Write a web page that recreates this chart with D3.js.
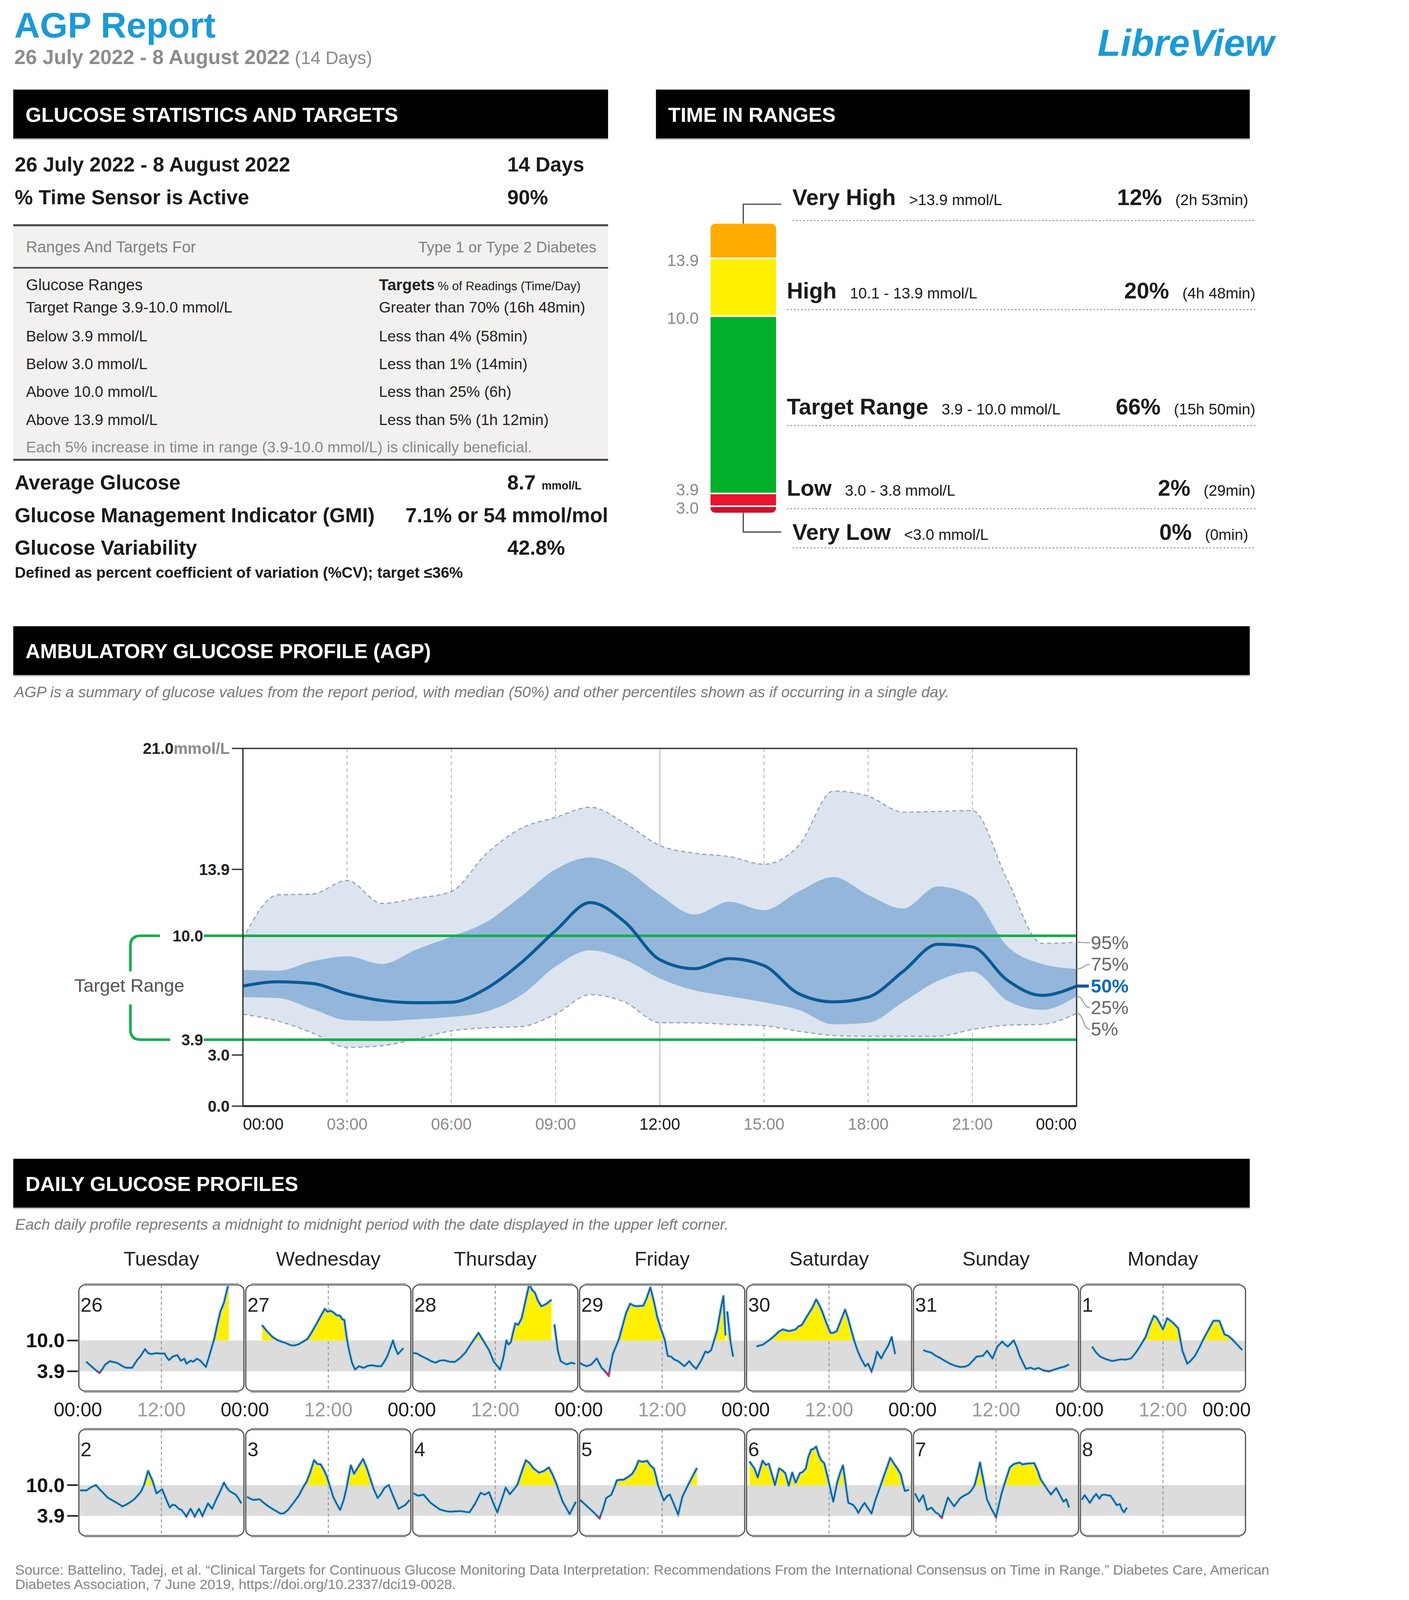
<!DOCTYPE html>
<html><head><meta charset="utf-8">
<script src="https://cdn.jsdelivr.net/npm/d3@7"></script>
<style>html,body{margin:0;padding:0;background:#fff;width:100%;height:100%;overflow:hidden;} svg{display:block;width:100vw;height:100vh;}</style>
</head><body>
<svg id="c"></svg>
<script>
// ===================== DATA =====================
const reportTitle = "AGP Report";
const reportPeriod = "26 July 2022 - 8 August 2022";
const reportDays = "(14 Days)";
const brand = "LibreView";
const sectionTitles = ["GLUCOSE STATISTICS AND TARGETS", "TIME IN RANGES", "AMBULATORY GLUCOSE PROFILE (AGP)", "DAILY GLUCOSE PROFILES"];

const statsTopLabels = ["26 July 2022 - 8 August 2022", "% Time Sensor is Active"];
const statsTopValues = ["14 Days", "90%"];
const rangesHeaderLeft = "Ranges And Targets For";
const rangesHeaderRight = "Type 1 or Type 2 Diabetes";
const rangeNames = ["Target Range 3.9-10.0 mmol/L", "Below 3.9 mmol/L", "Below 3.0 mmol/L", "Above 10.0 mmol/L", "Above 13.9 mmol/L"];
const rangeTargets = ["Greater than 70% (16h 48min)", "Less than 4% (58min)", "Less than 1% (14min)", "Less than 25% (6h)", "Less than 5% (1h 12min)"];
const rangesNote = "Each 5% increase in time in range (3.9-10.0 mmol/L) is clinically beneficial.";
const metricLabels = ["Average Glucose", "Glucose Management Indicator (GMI)", "Glucose Variability"];
const metricValues = ["8.7", "7.1% or 54 mmol/mol", "42.8%"];
const metricUnits = ["mmol/L", "", ""];
const cvNote = "Defined as percent coefficient of variation (%CV); target \u226436%";

const tirLabels = ["Very High", "High", "Target Range", "Low", "Very Low"];
const tirRanges = [">13.9 mmol/L", "10.1 - 13.9 mmol/L", "3.9 - 10.0 mmol/L", "3.0 - 3.8 mmol/L", "<3.0 mmol/L"];
const tirPercents = [12, 20, 66, 2, 0];
const tirTimes = ["(2h 53min)", "(4h 48min)", "(15h 50min)", "(29min)", "(0min)"];
const tirThresholds = ["13.9", "10.0", "3.9", "3.0"];

const agpSubtitle = "AGP is a summary of glucose values from the report period, with median (50%) and other percentiles shown as if occurring in a single day.";
const agpHours = [0,1,2,3,4,5,6,7,8,9,10,11,12,13,14,15,16,17,18,19,20,21,22,23,24];
const p95 = [9.8,12.4,12.45,13.25,11.9,12.2,12.6,14.8,16.3,16.95,17.55,16.6,15.3,14.85,14.65,14.2,15.3,18.5,18.2,17.26,17.3,17.35,13.3,9.55,9.62];
const p75 = [8.0,7.95,8.5,8.8,8.35,9.2,9.95,10.8,12.3,13.9,14.6,13.9,12.4,11.25,12.0,11.5,12.6,13.45,12.4,11.6,12.9,12.3,9.4,8.35,8.05];
const p50 = [7.05,7.3,7.2,6.6,6.2,6.07,6.1,6.9,8.4,10.3,11.95,10.8,8.6,8.07,8.66,8.25,6.6,6.12,6.4,7.9,9.5,9.35,7.4,6.5,7.05];
const p25 = [6.4,6.35,5.7,5.05,5.0,5.1,5.24,5.55,6.5,8.2,9.15,8.6,7.5,6.8,6.45,6.1,5.65,4.8,4.9,6.1,7.35,7.9,6.2,5.65,6.45];
const p5  = [5.4,5.0,4.3,3.45,3.55,3.95,4.42,4.6,4.67,5.4,6.55,6.1,4.9,4.89,4.8,4.72,4.4,4.15,4.1,4.1,4.1,4.5,4.75,4.8,5.45];
const percentileLabels = ["95%", "75%", "50%", "25%", "5%"];
const agpXTickHours = [0,3,6,9,12,15,18,21,24];
const agpXTickLabels = ["00:00","03:00","06:00","09:00","12:00","15:00","18:00","21:00","00:00"];
const agpYTicks = [21.0, 13.9, 3.0, 0.0];
const targetLow = 3.9, targetHigh = 10.0;

const dailySubtitle = "Each daily profile represents a midnight to midnight period with the date displayed in the upper left corner.";
const dayNames = ["Tuesday","Wednesday","Thursday","Friday","Saturday","Sunday","Monday"];
const dailyDates = ["26","27","28","29","30","31","1","2","3","4","5","6","7","8"];
const d26 = [[1.2,5.8],[2.0,4.8],[2.6,4.1],[3.1,3.6],[3.5,4.3],[3.9,5.2],[4.6,5.9],[5.2,5.7],[5.6,5.6],[6.3,5.0],[6.9,4.6],[7.8,4.6],[8.5,6.1],[9.0,6.9],[9.65,8.3],[10.1,7.5],[10.6,7.3],[11.2,7.5],[12.0,7.4],[12.45,7.45],[12.8,6.6],[13.1,6.1],[13.6,6.8],[14.3,7.1],[14.8,6.0],[15.3,6.4],[15.6,5.4],[16.2,6.0],[16.6,5.8],[17.1,6.4],[17.6,6.0],[18.4,4.75],[19.0,7.5],[19.6,10.3],[20.1,13.5],[20.5,15.8],[21.0,17.5],[21.7,21.5]];
const d27 = [[2.46,13.05],[3.2,11.8],[4.0,10.67],[4.8,10.0],[5.4,9.7],[5.9,9.5],[6.5,9.1],[7.1,9.0],[7.8,9.3],[8.4,9.8],[9.0,10.3],[9.6,11.6],[10.2,13.05],[10.9,14.8],[11.5,16.27],[11.9,15.7],[12.3,15.9],[12.7,15.6],[13.2,15.0],[13.7,14.9],[14.0,14.2],[14.3,14.07],[14.6,11.0],[14.9,8.6],[15.4,5.6],[15.85,4.24],[16.4,4.9],[17.1,4.57],[17.7,5.0],[18.35,5.1],[19.0,4.9],[19.6,4.9],[20.1,5.9],[20.5,6.95],[21.3,10.0],[21.6,8.6],[22.0,7.3],[22.4,7.9],[22.8,8.47]];
const d28 = [[0.2,7.5],[0.7,7.45],[1.4,6.9],[2.1,6.44],[2.8,5.9],[3.4,5.6],[4.0,6.0],[4.6,6.1],[5.4,5.8],[6.2,5.76],[7.0,6.6],[7.7,7.6],[8.6,9.5],[9.6,11.5],[10.4,9.7],[11.1,8.1],[11.8,5.8],[12.7,4.24],[13.2,6.8],[13.6,10.0],[13.9,9.2],[14.25,9.66],[14.6,11.8],[14.9,13.4],[15.3,13.1],[15.8,14.4],[16.3,17.5],[16.9,21.2],[17.3,20.0],[17.7,19.5],[18.1,18.0],[18.6,16.8],[19.0,17.0],[19.4,17.3],[20.1,18.1],[20.15,null],[20.5,13.2],[21.0,8.0],[21.4,5.9],[21.9,5.5],[22.3,5.25],[22.9,5.6],[23.5,5.4]];
const d29 = [[0.1,5.6],[0.6,5.2],[1.15,4.9],[1.8,5.25],[2.6,6.44],[3.3,4.57],[3.8,3.9],[4.3,3.05],[4.9,7.3],[5.8,10.3],[6.8,15.4],[7.4,17.3],[7.9,16.9],[8.3,16.8],[9.3,16.9],[9.8,18.5],[10.3,20.5],[10.8,17.8],[11.3,14.6],[11.8,12.4],[12.4,10.0],[12.8,6.95],[13.3,6.8],[13.7,6.27],[14.3,5.9],[15.2,4.9],[15.9,5.9],[16.4,5.0],[16.9,4.4],[17.6,6.0],[18.2,7.8],[18.6,7.6],[19.05,8.1],[19.9,12.0],[20.4,16.0],[20.8,18.8],[21.0,13.5],[21.1,11.0],[21.2,null],[21.35,15.8],[21.8,10.0],[22.2,6.8]];
const d30 = [[1.56,8.8],[2.0,9.0],[2.45,9.15],[3.33,10.0],[4.22,11.0],[4.8,11.8],[5.4,12.2],[5.8,12.0],[6.3,11.86],[7.2,12.2],[7.6,12.8],[8.07,13.05],[8.96,15.1],[9.6,16.5],[10.14,18.13],[10.6,17.0],[11.0,15.76],[11.6,13.5],[12.2,11.5],[12.6,11.5],[13.1,11.86],[13.7,14.0],[14.3,16.1],[14.7,14.5],[15.2,12.0],[15.6,10.0],[16.1,7.97],[16.6,6.4],[17.2,4.9],[17.6,5.4],[18.1,3.9],[18.5,5.5],[18.9,7.8],[19.5,6.44],[19.9,7.6],[20.5,9.0],[21.0,10.67],[21.5,7.3]];
const d31 = [[1.53,8.1],[2.1,7.8],[2.7,7.6],[3.3,7.0],[3.9,6.6],[4.6,6.0],[5.4,5.4],[6.1,5.0],[6.86,4.75],[7.5,4.8],[8.04,5.1],[8.6,5.9],[9.2,6.8],[10.1,6.95],[10.7,7.97],[11.5,6.44],[12.2,8.81],[12.9,9.8],[13.3,9.2],[13.7,8.81],[14.55,10.0],[15.0,8.6],[15.4,6.95],[16.3,4.4],[17.0,4.6],[17.5,4.3],[18.1,4.57],[18.8,4.1],[19.6,3.9],[20.3,4.2],[21.1,4.57],[21.8,4.8],[22.5,5.25]];
const d01 = [[1.8,8.8],[2.4,7.6],[3.0,6.8],[3.8,6.3],[4.76,5.93],[5.3,6.1],[5.94,6.27],[6.6,6.2],[7.4,6.44],[8.0,7.4],[8.6,8.64],[9.5,10.67],[10.1,13.0],[10.7,14.9],[11.1,14.5],[11.5,13.5],[12.0,12.2],[12.6,14.4],[13.3,13.7],[13.8,13.0],[14.2,12.4],[14.8,7.97],[15.5,5.4],[16.0,6.0],[16.6,6.95],[17.2,8.5],[17.8,10.2],[18.5,12.0],[19.25,13.9],[19.7,13.9],[20.1,13.9],[20.5,12.5],[20.85,11.2],[21.4,10.9],[21.9,10.3],[22.6,9.3],[23.4,8.1]];
const d02 = [[0.3,8.95],[1.25,8.95],[1.9,9.6],[2.6,10.0],[3.1,9.2],[3.7,8.36],[4.3,7.5],[5.0,6.95],[5.7,6.4],[6.4,5.78],[6.9,6.1],[7.5,6.6],[8.1,7.2],[8.7,8.1],[9.1,8.8],[9.5,10.0],[10.1,12.8],[10.7,10.94],[11.3,8.36],[12.1,9.18],[12.6,7.5],[13.2,5.55],[13.6,6.1],[14.0,6.0],[14.5,5.3],[14.9,5.08],[15.6,3.8],[16.2,5.31],[16.8,3.8],[17.4,5.31],[17.9,3.9],[18.7,6.37],[19.3,5.31],[19.9,7.2],[20.5,8.9],[21.0,10.47],[21.4,9.5],[21.8,8.83],[22.2,8.5],[22.7,8.1],[23.1,7.3],[23.5,6.37]];
const d03 = [[0.3,7.66],[0.8,7.3],[1.2,7.07],[2.15,7.19],[2.7,6.5],[3.4,5.78],[4.2,5.1],[5.1,4.37],[5.6,4.4],[6.2,5.08],[7.0,6.5],[7.75,7.9],[8.4,9.6],[8.9,10.7],[9.4,12.5],[9.95,14.93],[10.4,14.2],[10.9,14.1],[11.4,12.9],[11.8,11.65],[12.3,9.5],[12.7,7.66],[13.2,6.3],[13.7,5.08],[14.2,7.0],[14.6,9.3],[15.24,13.9],[15.7,12.23],[16.3,13.6],[17.0,15.17],[17.5,13.5],[18.0,11.4],[18.5,9.3],[19.1,7.43],[19.6,8.3],[20.1,9.5],[20.7,10.0],[21.3,7.9],[22.1,5.31],[22.6,5.7],[23.1,6.1],[23.7,7.07]];
const d04 = [[0.25,8.36],[0.9,7.9],[1.7,8.1],[2.2,7.3],[2.7,6.5],[3.3,5.9],[4.0,5.2],[4.7,4.9],[5.5,4.72],[6.3,4.8],[7.1,4.85],[7.7,4.7],[8.3,4.6],[9.1,6.3],[9.9,8.48],[10.5,8.1],[11.1,8.6],[11.7,6.5],[12.3,4.6],[12.9,7.0],[13.5,9.5],[14.1,8.2],[14.7,9.2],[15.2,10.1],[15.8,12.6],[16.4,14.93],[16.9,14.4],[17.5,13.3],[18.3,12.47],[19.0,12.8],[19.7,13.5],[20.2,12.2],[20.8,10.24],[21.2,8.6],[21.7,6.7],[22.2,5.5],[22.7,4.26],[23.1,5.4],[23.6,6.7]];
const d05 = [[0.2,7.07],[0.9,6.2],[1.6,5.31],[2.3,4.4],[3.0,3.44],[3.5,5.3],[3.95,7.43],[4.7,8.1],[5.1,9.5],[5.5,10.94],[6.0,11.06],[6.45,11.06],[7.1,11.6],[7.7,12.23],[8.2,13.4],[8.6,14.81],[9.2,14.6],[9.85,14.81],[10.3,13.9],[10.8,13.29],[11.1,11.8],[11.4,10.0],[11.8,8.5],[12.24,6.96],[12.7,7.8],[13.1,8.13],[13.7,6.2],[14.3,4.14],[14.9,7.66],[15.8,10.24],[16.4,11.8],[17.0,13.4]];
const d06 = [[0.55,14.7],[1.26,13.3],[1.73,11.53],[2.44,14.81],[2.9,14.0],[3.33,14.23],[4.22,10.0],[4.81,13.29],[5.3,12.9],[5.7,12.35],[6.2,9.89],[6.7,12.47],[7.2,10.47],[7.8,12.35],[8.2,12.6],[8.66,13.29],[9.0,15.5],[9.43,17.04],[9.8,17.2],[10.14,17.63],[10.5,16.0],[10.85,14.93],[11.3,14.34],[11.9,10.94],[12.3,8.5],[12.6,6.72],[13.2,10.7],[13.6,12.5],[14.0,13.87],[14.4,10.0],[14.76,6.48],[15.1,6.3],[15.5,6.02],[15.9,5.3],[16.2,4.49],[16.6,5.5],[17.1,6.48],[17.6,5.4],[18.1,4.37],[18.6,6.8],[19.3,9.5],[19.9,11.88],[20.4,13.8],[20.8,15.4],[21.3,14.3],[21.8,13.3],[22.3,12.12],[22.6,10.3],[22.9,8.83],[23.5,9.07]];
const d07 = [[0.35,8.36],[0.94,6.72],[1.53,8.0],[2.1,5.08],[2.7,5.55],[3.3,4.6],[3.7,4.3],[4.2,3.55],[5.08,7.54],[5.97,5.78],[6.86,7.43],[7.4,7.9],[8.04,8.36],[8.5,9.0],[8.93,10.0],[9.3,12.0],[9.7,14.46],[10.2,10.8],[10.7,7.19],[11.3,5.4],[12.0,3.67],[12.8,8.36],[13.4,11.0],[14.0,13.52],[14.6,14.2],[15.4,14.46],[15.8,14.1],[16.3,14.23],[16.9,14.3],[17.5,14.34],[18.0,12.8],[18.4,11.17],[19.3,9.3],[19.9,8.13],[20.65,9.42],[21.2,8.0],[21.7,6.72],[22.1,7.19],[22.5,5.55]];
const d08 = [[0.32,7.07],[0.73,8.0],[1.1,7.3],[1.5,6.48],[2.0,7.6],[2.4,8.25],[2.86,7.31],[3.2,8.0],[3.57,8.13],[4.0,8.0],[4.46,7.9],[4.9,7.0],[5.35,6.02],[5.8,6.25],[6.1,5.2],[6.4,4.6],[6.83,5.55]];
const dailyData = [d26,d27,d28,d29,d30,d31,d01,d02,d03,d04,d05,d06,d07,d08];

const footer1 = "Source: Battelino, Tadej, et al. \u201cClinical Targets for Continuous Glucose Monitoring Data Interpretation: Recommendations From the International Consensus on Time in Range.\u201d Diabetes Care, American";
const footer2 = "Diabetes Association, 7 June 2019, https://doi.org/10.2337/dci19-0028.";

// ===================== DRAWING =====================
const W = 1265, H = 1571.3;
const FONT = "'Liberation Sans', Arial, Helvetica, sans-serif";
const svg = d3.select("#c").attr("viewBox", `0 0 ${W} ${H}`)
  .attr("preserveAspectRatio", "xMinYMin meet").attr("font-family", FONT);
svg.append("rect").attr("width", W).attr("height", H).attr("fill", "#fff");
const defs = svg.append("defs");
const DARK = "#1a1a1a";

function txt(g, x, y, s, o = {}) {
  const t = g.append("text").attr("x", x).attr("y", y).text(s)
    .attr("font-size", o.size || 15).attr("fill", o.fill || DARK);
  if (o.weight) t.attr("font-weight", o.weight);
  if (o.anchor) t.attr("text-anchor", o.anchor);
  if (o.style) t.attr("font-style", o.style);
  return t;
}

// ---- Header ----
txt(svg, 14, 37, reportTitle, {size: 35, weight: "bold", fill: "#1b9ad6"});
const sub = svg.append("text").attr("x", 14).attr("y", 63).attr("fill", "#8c8c8c");
sub.append("tspan").attr("font-size", 20).attr("font-weight", "bold").text(reportPeriod);
sub.append("tspan").attr("font-size", 17.5).attr("dx", 5).text(reportDays);
txt(svg, 1251, 55, brand, {size: 37, weight: "bold", style: "italic", fill: "#1a9ad6", anchor: "end"});

// ---- Section bars ----
const bars = [[13, 88, 584, 48], [644, 88, 583, 48], [13, 615, 1214, 48], [13, 1138, 1214, 48]];
bars.forEach((b, i) => {
  svg.append("rect").attr("x", b[0]).attr("y", b[1]).attr("width", b[2]).attr("height", b[3]).attr("fill", "#000");
  svg.append("line").attr("x1", b[0]).attr("x2", b[0] + b[2]).attr("y1", b[1] + b[3] + 0.8).attr("y2", b[1] + b[3] + 0.8)
    .attr("stroke", "#c8c8c8").attr("stroke-width", 1.2);
  txt(svg, b[0] + 12, b[1] + 31.5, sectionTitles[i], {size: 20, weight: "bold", fill: "#fff"});
});

// ---- Glucose statistics ----
const gs = svg.append("g");
[168.3, 200.8].forEach((y, i) => {
  txt(gs, 14.5, y, statsTopLabels[i], {size: 20, weight: "bold"});
  txt(gs, 498, y, statsTopValues[i], {size: 20, weight: "bold"});
});
gs.append("rect").attr("x", 13).attr("y", 221.2).attr("width", 584).attr("height", 230.4).attr("fill", "#f2f1f0");
[[221.2, 2], [263, 1.6], [451.6, 2]].forEach(l => gs.append("line").attr("x1", 13).attr("x2", 597)
  .attr("y1", l[0]).attr("y2", l[0]).attr("stroke", "#4a4a4a").attr("stroke-width", l[1]));
txt(gs, 25.5, 247.8, rangesHeaderLeft, {size: 15.5, fill: "#808080"});
txt(gs, 585.5, 247.8, rangesHeaderRight, {size: 15, fill: "#808080", anchor: "end"});
txt(gs, 25.5, 285, "Glucose Ranges", {size: 15.5, fill: "#222"});
const tg = gs.append("text").attr("x", 372).attr("y", 285).attr("fill", "#222");
tg.append("tspan").attr("font-size", 15.5).attr("font-weight", "bold").text("Targets");
tg.append("tspan").attr("font-size", 12).attr("dx", 3).text("% of Readings (Time/Day)");
const rowYs = [306.9, 335.4, 362.4, 389.6, 417.2];
rangeNames.forEach((s, i) => {
  txt(gs, 25.5, rowYs[i], s, {size: 15, fill: "#222"});
  txt(gs, 372, rowYs[i], rangeTargets[i], {size: 15, fill: "#222"});
});
txt(gs, 25.5, 444.1, rangesNote, {size: 15, fill: "#8a8a8a"});
const metYs = [480.5, 513, 544.7];
metricLabels.forEach((s, i) => {
  txt(gs, 14.5, metYs[i], s, {size: 20, weight: "bold"});
  if (i === 1) {
    txt(gs, 597, metYs[i], metricValues[i], {size: 20, weight: "bold", anchor: "end"});
  } else {
    const t = gs.append("text").attr("x", 498).attr("y", metYs[i]).attr("fill", DARK);
    t.append("tspan").attr("font-size", 20).attr("font-weight", "bold").text(metricValues[i]);
    if (metricUnits[i]) t.append("tspan").attr("font-size", 11).attr("font-weight", "bold").attr("dx", 6).text(metricUnits[i]);
  }
});
txt(gs, 14.5, 567.4, cvNote, {size: 15, weight: "bold"});

// ---- Time in ranges ----
const tir = svg.append("g");
const barX = 697.5, barW = 64.5, barTop = 219.6, barH = 284;
const tirColors = ["#ffab00", "#fff200", "#00b02a", "#e8142d", "#d0102a"];
const minSeg = [0, 0, 0, 12.5, 6.5];
const hScale = d3.scaleLinear().domain([0, 100]).range([0, barH]);
const heights = tirPercents.map((p, i) => Math.max(hScale(p), minSeg[i]));
heights[2] -= d3.sum(heights) - barH;
const segTops = [];
let acc = barTop;
heights.forEach(h => { segTops.push(acc); acc += h; });
defs.append("clipPath").attr("id", "barClip").append("rect")
  .attr("x", barX).attr("y", barTop).attr("width", barW).attr("height", barH).attr("rx", 5);
const bg = tir.append("g").attr("clip-path", "url(#barClip)");
bg.selectAll("rect").data(heights).join("rect")
  .attr("x", barX).attr("y", (d, i) => segTops[i]).attr("width", barW).attr("height", d => d)
  .attr("fill", (d, i) => tirColors[i]);
bg.selectAll("line").data(segTops.slice(1)).join("line")
  .attr("x1", barX).attr("x2", barX + barW).attr("y1", d => d).attr("y2", d => d)
  .attr("stroke", "#fff").attr("stroke-width", 1.6);
const thrOffsets = [2, 2, -3.5, 2];
tirThresholds.forEach((s, i) => {
  txt(tir, 686, segTops[i + 1] + thrOffsets[i] + 5.5, s, {size: 16, fill: "#8a8a8a", anchor: "end"});
});
const cx = barX + barW / 2;
tir.append("path").attr("d", `M${cx},${barTop} V200.6 H767`).attr("fill", "none").attr("stroke", "#555").attr("stroke-width", 1.3);
tir.append("path").attr("d", `M${cx},${barTop + barH} V522.5 H767`).attr("fill", "none").attr("stroke", "#555").attr("stroke-width", 1.3);
const tirRowY = [201.5, 293, 407, 487, 530];
const tirRowX = [778, 772.5, 772.5, 772.5, 778];
const tirRowR = [1225.5, 1232.5, 1232.5, 1232.5, 1225.5];
const tirLineY = [216.6, 304, 418, 499.6, 538];
tirLabels.forEach((s, i) => {
  const t = tir.append("text").attr("x", tirRowX[i]).attr("y", tirRowY[i]).attr("fill", DARK);
  t.append("tspan").attr("font-size", 22).attr("font-weight", "bold").text(s);
  t.append("tspan").attr("font-size", 15).attr("dx", 13).text(tirRanges[i]);
  const r = tir.append("text").attr("x", tirRowR[i]).attr("y", tirRowY[i]).attr("fill", DARK).attr("text-anchor", "end");
  r.append("tspan").attr("font-size", 22).attr("font-weight", "bold").text(tirPercents[i] + "%");
  r.append("tspan").attr("font-size", 15).attr("dx", 13).text(tirTimes[i]);
  tir.append("line").attr("x1", tirRowX[i]).attr("x2", 1233).attr("y1", tirLineY[i]).attr("y2", tirLineY[i])
    .attr("stroke", "#a8a8a8").attr("stroke-width", 1.3).attr("stroke-dasharray", "1.5,2");
});

// ---- AGP ----
txt(svg, 14, 684.6, agpSubtitle, {size: 15, style: "italic", fill: "#7a7a7a"});
const agp = svg.append("g");
const ax = d3.scaleLinear().domain([0, 24]).range([238.5, 1057]);
const ay = d3.scaleLinear().domain([0, 21]).range([1086.3, 735]);
agp.selectAll("line.grid").data(agpXTickHours.filter(h => h > 0 && h < 24)).join("line")
  .attr("x1", d => ax(d)).attr("x2", d => ax(d)).attr("y1", ay(21)).attr("y2", ay(0))
  .attr("stroke", d => d === 12 ? "#d2d2d2" : "#bcbcbc").attr("stroke-width", d => d === 12 ? 1.6 : 1)
  .attr("stroke-dasharray", d => d === 12 ? null : "3.5,3");
const pts = agpHours.map((h, i) => ({h, p5: p5[i], p25: p25[i], p50: p50[i], p75: p75[i], p95: p95[i]}));
const cv = d3.curveMonotoneX;
agp.append("path").datum(pts).attr("fill", "#dce4ef")
  .attr("d", d3.area().x(d => ax(d.h)).y0(d => ay(d.p5)).y1(d => ay(d.p95)).curve(cv));
agp.append("path").datum(pts).attr("fill", "#94b6da")
  .attr("d", d3.area().x(d => ax(d.h)).y0(d => ay(d.p25)).y1(d => ay(d.p75)).curve(cv));
["p5", "p95"].forEach(k => agp.append("path").datum(pts).attr("fill", "none").attr("stroke", "#9aa4b3")
  .attr("stroke-width", 1.2).attr("stroke-dasharray", "4,3")
  .attr("d", d3.line().x(d => ax(d.h)).y(d => ay(d[k])).curve(cv)));
const yT = ay(targetHigh), yL = ay(targetLow);
[yT, yL].forEach(y => agp.append("line").attr("x1", 200).attr("x2", 1057).attr("y1", y).attr("y2", y)
  .attr("stroke", "#13b04b").attr("stroke-width", 2.6));
agp.append("path").attr("fill", "none").attr("stroke", "#13b04b").attr("stroke-width", 2.6)
  .attr("d", `M157,${yT} H138 Q128,${yT} 128,${yT + 10} V954 M128,986.4 V${yL - 10} Q128,${yL} 138,${yL} H167`);
txt(agp, 127, 974, "Target Range", {size: 18, fill: "#555", anchor: "middle"});
txt(agp, 199.5, yT + 5.5, targetHigh.toFixed(1), {size: 15.5, weight: "bold", fill: "#222", anchor: "end"});
txt(agp, 199.5, yL + 5.5, targetLow.toFixed(1), {size: 15.5, weight: "bold", fill: "#222", anchor: "end"});
agp.append("path").datum(pts).attr("fill", "none").attr("stroke", "#0b5a96").attr("stroke-width", 3)
  .attr("d", d3.line().x(d => ax(d.h)).y(d => ay(d.p50)).curve(cv));
agp.append("rect").attr("x", ax(0)).attr("y", ay(21)).attr("width", ax(24) - ax(0)).attr("height", ay(0) - ay(21))
  .attr("fill", "none").attr("stroke", "#333").attr("stroke-width", 1.3);
agp.append("line").attr("x1", ax(0)).attr("x2", ax(24)).attr("y1", ay(0)).attr("y2", ay(0)).attr("stroke", "#333").attr("stroke-width", 2);
agpYTicks.forEach(v => {
  agp.append("line").attr("x1", 227.6).attr("x2", ax(0)).attr("y1", ay(v)).attr("y2", ay(v)).attr("stroke", "#333").attr("stroke-width", 1.3);
  const t = agp.append("text").attr("x", 225.5).attr("y", ay(v) + 5.5).attr("text-anchor", "end")
    .attr("font-size", 15.5).attr("font-weight", "bold");
  t.append("tspan").attr("fill", "#222").text(v.toFixed(1));
  if (v === 21) t.append("tspan").attr("fill", "#8a8a8a").text("mmol/L");
});
agpXTickHours.forEach((h, i) => {
  const major = (h % 12 === 0);
  txt(agp, ax(h), 1109.3, agpXTickLabels[i], {size: 16, fill: major ? "#1a1a1a" : "#8c8c8c",
    anchor: i === 0 ? "start" : (i === agpXTickHours.length - 1 ? "end" : "middle")});
});
const endVals = [p95, p75, p50, p25, p5].map(a => a[a.length - 1]);
const lblBase = ay(endVals[2]);
percentileLabels.forEach((s, i) => {
  const yl = lblBase + (i - 2) * 21.2;
  const yv = ay(endVals[i]);
  if (i === 2) {
    agp.append("line").attr("x1", ax(24)).attr("x2", 1069).attr("y1", yl).attr("y2", yl).attr("stroke", "#0b5a96").attr("stroke-width", 3);
  } else {
    agp.append("path").attr("fill", "none").attr("stroke", "#9a9a9a").attr("stroke-width", 1)
      .attr("d", `M${ax(24)},${yv} C1064,${yv} 1063,${yl} 1070,${yl}`);
  }
  txt(agp, 1071, yl + 6.3, s, {size: 18.5, fill: i === 2 ? "#0b6cb0" : "#666", weight: i === 2 ? "bold" : null});
});

// ---- Daily profiles ----
txt(svg, 14.9, 1207.5, dailySubtitle, {size: 15, style: "italic", fill: "#7a7a7a"});
const dg = svg.append("g");
const colX = d3.scaleLinear().domain([0, 7]).range([76.5, 1223.7]);
const rowTop = d3.scaleLinear().domain([0, 1]).range([1262, 1404]);
const panelH = 104;
dayNames.forEach((s, c) => txt(dg, colX(c + 0.5), 1242.8, s, {size: 19.5, fill: "#222", anchor: "middle"}));
for (let c = 0; c <= 7; c++) {
  txt(dg, c === 7 ? 1228 : colX(c), 1391, "00:00", {size: 19, fill: "#1a1a1a", anchor: c === 7 ? "end" : "middle"});
  if (c < 7) txt(dg, colX(c + 0.5), 1391, "12:00", {size: 19, fill: "#9a9a9a", anchor: "middle"});
}
[0, 1].forEach(r => {
  const yy = d3.scaleLinear().domain([0, 21]).range([rowTop(r) + panelH, rowTop(r)]);
  [targetHigh, targetLow].forEach(v => {
    dg.append("line").attr("x1", 66).attr("x2", 76.5).attr("y1", yy(v)).attr("y2", yy(v)).attr("stroke", "#222").attr("stroke-width", 1.6);
    txt(dg, 63.5, yy(v) + 6.8, v.toFixed(1), {size: 19.5, weight: "bold", fill: "#111", anchor: "end"});
  });
});
for (let c = 0; c < 7; c++) {
  [0, 1].forEach(r => {
    const x0 = colX(c), x1 = colX(c + 1), t0 = rowTop(r);
    const yy = d3.scaleLinear().domain([0, 21]).range([t0 + panelH, t0]);
    dg.append("rect").attr("x", x0 + 1).attr("y", yy(targetHigh)).attr("width", x1 - x0 - 2)
      .attr("height", yy(targetLow) - yy(targetHigh)).attr("fill", "#dcdcdc");
    dg.append("line").attr("x1", (x0 + x1) / 2).attr("x2", (x0 + x1) / 2).attr("y1", t0).attr("y2", t0 + panelH)
      .attr("stroke", "#999").attr("stroke-width", 1).attr("stroke-dasharray", "3,2.5");
  });
}
dailyData.forEach((data, i) => {
  const c = i % 7, r = Math.floor(i / 7);
  const x0 = colX(c), x1 = colX(c + 1), t0 = rowTop(r);
  const xx = d3.scaleLinear().domain([0, 24]).range([x0, x1]);
  const yy = d3.scaleLinear().domain([0, 21]).range([t0 + panelH, t0]);
  const id = "p" + i;
  defs.append("clipPath").attr("id", id + "a").append("rect").attr("x", x0).attr("y", t0).attr("width", x1 - x0).attr("height", yy(targetHigh) - t0);
  defs.append("clipPath").attr("id", id + "f").append("rect").attr("x", x0).attr("y", t0 + 1).attr("width", x1 - x0).attr("height", panelH - 2);
  defs.append("clipPath").attr("id", id + "b").append("rect").attr("x", x0).attr("y", yy(targetLow)).attr("width", x1 - x0).attr("height", t0 + panelH - yy(targetLow));
  const def = d => d[1] != null;
  const area = d3.area().defined(def).x(d => xx(d[0])).y0(yy(targetHigh)).y1(d => yy(d[1]));
  const line = d3.line().defined(def).x(d => xx(d[0])).y(d => yy(d[1]));
  const g = dg.append("g").attr("clip-path", `url(#${id}f)`);
  g.append("path").datum(data).attr("d", area).attr("fill", "#fff000").attr("clip-path", `url(#${id}a)`);
  g.append("path").datum(data).attr("d", line).attr("fill", "none").attr("stroke", "#9fd6f2").attr("stroke-width", 3.2).attr("stroke-linejoin", "round");
  g.append("path").datum(data).attr("d", line).attr("fill", "none").attr("stroke", "#185c8c").attr("stroke-width", 1.5).attr("stroke-linejoin", "round");
  g.append("path").datum(data).attr("d", line).attr("fill", "none").attr("stroke", "#d3245c").attr("stroke-width", 1.8).attr("clip-path", `url(#${id}b)`);
  txt(dg, x0 + 2.5, t0 + 26, dailyDates[i], {size: 19.5, fill: "#222"});
});
for (let c = 0; c < 7; c++) {
  [0, 1].forEach(r => {
    const x0 = colX(c) + 0.9, x1 = colX(c + 1) - 0.9, t0 = rowTop(r);
    dg.append("rect").attr("x", x0).attr("y", t0).attr("width", x1 - x0).attr("height", panelH).attr("rx", 6)
      .attr("fill", "none").attr("stroke", "#555").attr("stroke-width", 1.2);
    [t0 - 0.6, t0 + panelH + 0.6].forEach(y => dg.append("line").attr("x1", x0 + 5).attr("x2", x1 - 5).attr("y1", y).attr("y2", y)
      .attr("stroke", "#8c8c8c").attr("stroke-width", 2));
  });
}

// ---- Footer ----
txt(svg, 14.9, 1546.5, footer1, {size: 13.8, fill: "#858585"});
txt(svg, 14.9, 1560.5, footer2, {size: 13.8, fill: "#858585"});
</script>
</body></html>
